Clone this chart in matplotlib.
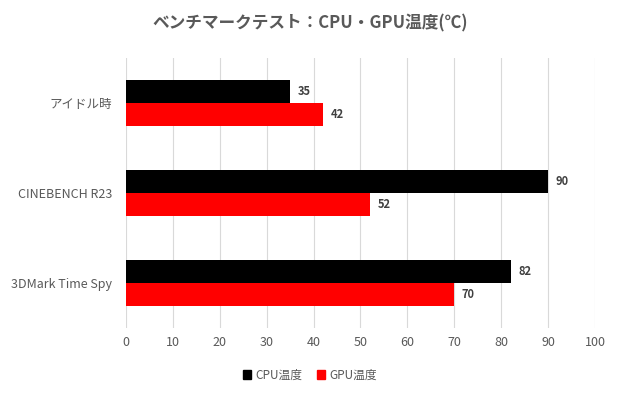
import numpy as np
import matplotlib.pyplot as plt
from matplotlib.patches import Patch

plt.rcParams['font.family'] = ['Noto Sans CJK JP', 'DejaVu Sans']

# data
categories = ['アイドル時', 'CINEBENCH R23', '3DMark Time Spy']
cpu_temp = [35, 90, 82]
gpu_temp = [42, 52, 70]
series_names = ['CPU温度', 'GPU温度']
x_ticks = list(range(0, 101, 10))

TEXT = '#595959'
GRID = '#d9d9d9'

fig = plt.figure(figsize=(6.2, 3.97), dpi=100)
ax = fig.add_axes([0.2032, 0.174, 0.7565, 0.680])

y = np.arange(len(categories))
h = 0.26
b1 = ax.barh(y - h / 2, cpu_temp, height=h, color='black', zorder=3)
b2 = ax.barh(y + h / 2, gpu_temp, height=h, color='#ff0000', zorder=3)

for bars in (b1, b2):
    for bar in bars:
        w = bar.get_width()
        ax.text(w + 1.6, bar.get_y() + bar.get_height() / 2, f'{w:g}',
                va='center', ha='left', fontsize=8, fontweight='bold',
                color='#404040')

ax.set_xlim(0, 100)
ax.set_ylim(len(categories) - 0.5, -0.5)
ax.set_xticks(x_ticks)
ax.set_yticks(y)
ax.set_yticklabels(categories)
ax.grid(axis='x', color=GRID, linewidth=0.8, zorder=0)
for s in ax.spines.values():
    s.set_visible(False)
ax.tick_params(axis='y', length=0, pad=10, labelsize=9, labelcolor=TEXT)
ax.tick_params(axis='x', length=0, pad=6, labelsize=9, labelcolor=TEXT)

fig.text(0.5, 0.94, 'ベンチマークテスト：CPU・GPU温度(℃)', ha='center', va='center',
         fontsize=12, fontweight='bold', color=TEXT)

handles = [Patch(color='black'), Patch(color='#ff0000')]
fig.legend(handles, series_names, loc='center', bbox_to_anchor=(0.5, 0.055),
           ncol=2, frameon=False, fontsize=8.5, labelcolor=TEXT,
           handlelength=0.7, handleheight=0.7, handletextpad=0.4,
           columnspacing=1.2)

fig.savefig('out.png', dpi=100)
